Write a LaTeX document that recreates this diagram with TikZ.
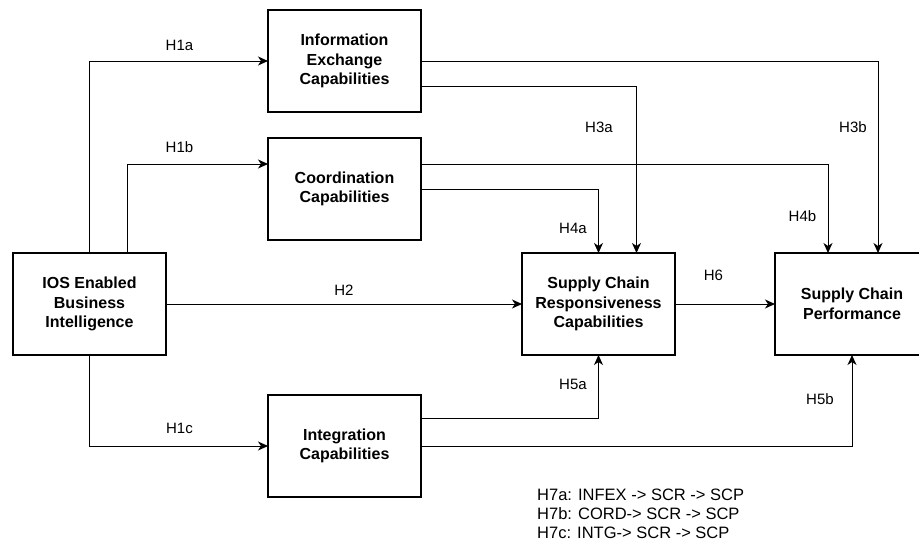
\documentclass[tikz,border=0pt]{standalone}
\usepackage{fontspec}
\setmainfont{Liberation Sans}
\usepackage{tikz}
\usetikzlibrary{arrows.meta,positioning}

\begin{document}
\begin{tikzpicture}[x=1pt, y=1pt]
      \tikzstyle{block} = [rectangle, draw, line width=2pt, outer sep=0pt,
                           minimum width=153pt, minimum height=102pt,
                           align=center, font=\bfseries\fontsize{16}{19.5}\selectfont]
      \tikzstyle{link} = [draw, line width=1pt,
                          -{Stealth[length=10pt, width=9pt, inset=3pt]}]
      \tikzstyle{hyp} = [font=\fontsize{15}{18}\selectfont]
      \useasboundingbox (0,0) rectangle (919,-542);
      \clip (0,0) rectangle (919,-542);
      \node[block] (IOS) at (89.5,-304)
        {IOS Enabled\\Business\\Intelligence};
      \node[block, above right=13pt and 102pt of IOS] (coord)
        {Coordination\\Capabilities};
      \node[block, above=26pt of coord] (info)
        {Information\\Exchange\\Capabilities};
      \node[block, below right=40pt and 102pt of IOS] (integ)
        {Integration\\Capabilities};
      \node[block, right=356pt of IOS] (SCR)
        {Supply Chain\\Responsiveness\\Capabilities};
      \node[block, minimum width=154pt, right=100pt of SCR] (SCP)
        {Supply Chain\\Performance};
      % from IOS BI
      \path[link] (IOS.north) |- (info.west);
      \path[link] ([xshift=38pt]IOS.north) |- ([yshift=25pt]coord.west);
      \path[link] (IOS.south) |- (integ.west);
      \path[link] (IOS.east) -- (SCR.west);
      % into SCR and SCP
      \path[link] ([yshift=-25pt]info.east) -| ([xshift=38pt]SCR.north);
      \path[link] (info.east) -| ([xshift=26pt]SCP.north);
      \path[link] (coord.east) -| (SCR.north);
      \path[link] ([yshift=25pt]coord.east) -| ([xshift=-24pt]SCP.north);
      \path[link] ([yshift=28pt]integ.east) -| (SCR.south);
      \path[link] (integ.east) -| (SCP.south);
      \path[link] (SCR.east) -- (SCP.west);
      % hypothesis labels
      \node[hyp] (h1a) at (179.5,-45) {H1a};
      \node[hyp] (h1b) at (179.5,-147) {H1b};
      \node[hyp] (h1c) at (179.5,-428) {H1c};
      \node[hyp] (h2) at (344,-290) {H2};
      \node[hyp] (h3a) at (599,-127) {H3a};
      \node[hyp] (h3b) at (853,-127) {H3b};
      \node[hyp] (h4a) at (573,-228) {H4a};
      \node[hyp] (h4b) at (802.5,-216) {H4b};
      \node[hyp] (h5a) at (573,-384) {H5a};
      \node[hyp] (h5b) at (820,-399) {H5b};
      \node[hyp] (h6) at (713.5,-275) {H6};
      \node[anchor=west, align=left, inner sep=0pt,
            font=\fontsize{16.5}{19}\selectfont] (mediation) at (537,-514)
        {H7a: INFEX -> SCR -> SCP\\H7b: CORD-> SCR -> SCP\\H7c: INTG-> SCR -> SCP};
\end{tikzpicture}
\end{document}
